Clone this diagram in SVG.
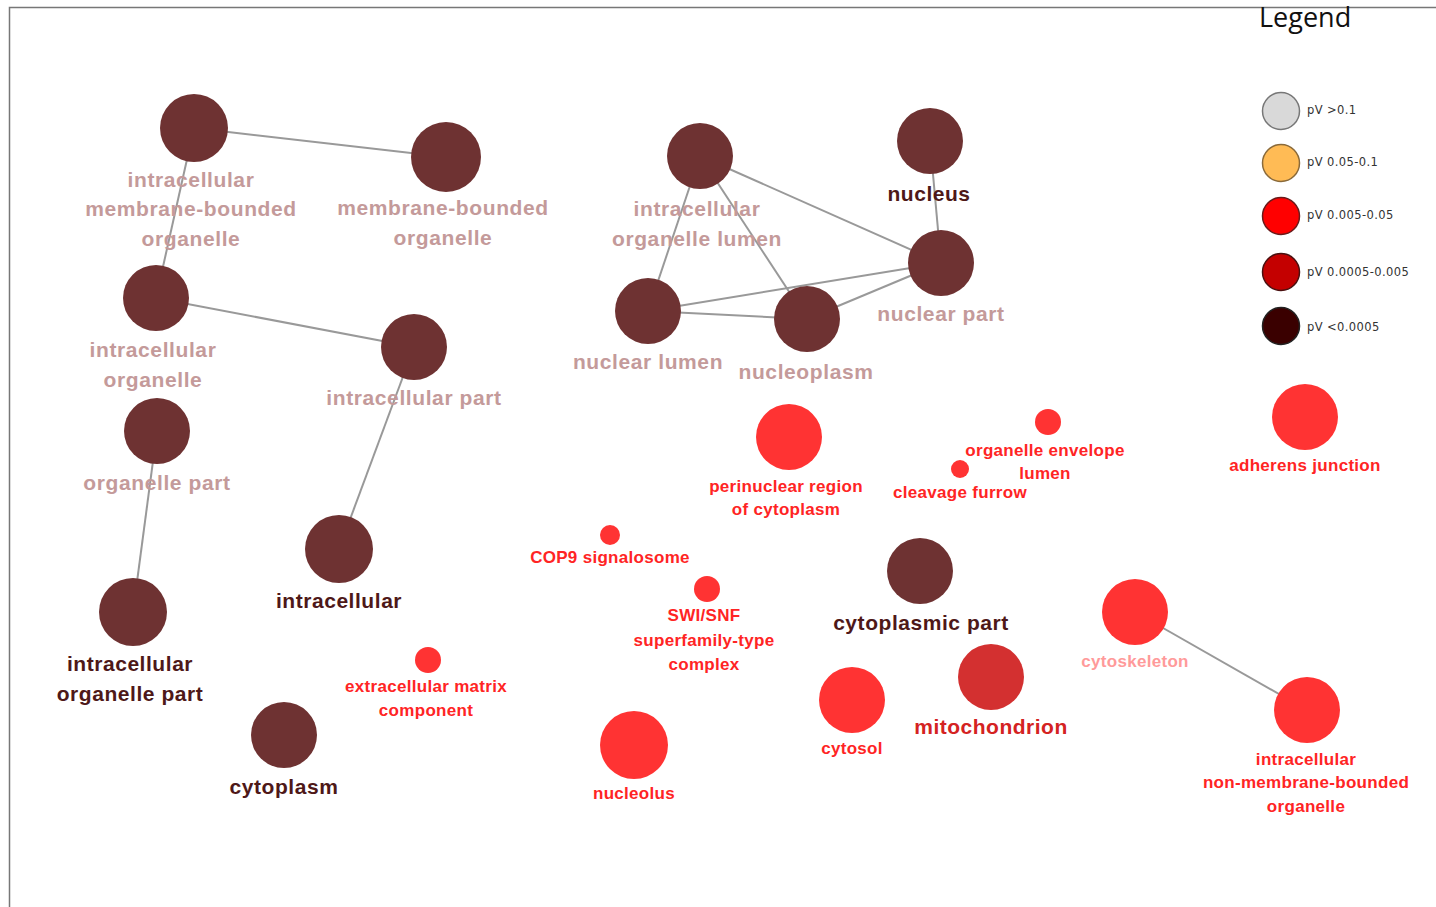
<svg xmlns="http://www.w3.org/2000/svg" width="1436" height="907" viewBox="0 0 1436 907">
  <style>
    .edge { stroke: #999; stroke-width: 2; fill: none; }
    .dk { fill: #6e3232; }
    .rd { fill: #ff3333; }
    .mt { fill: #d33030; }
    text { font-family: "Liberation Sans", Arial, sans-serif; font-weight: bold; text-anchor: middle; }
    .lf { fill: #c49a9a; font-size: 21px; letter-spacing: 0.6px; }
    .ld { fill: #4e1818; font-size: 21px; letter-spacing: 0.55px; }
    .lr { fill: #ff2424; font-size: 17px; letter-spacing: 0.3px; }
    .lm { fill: #d42222; font-size: 21px; letter-spacing: 0.5px; }
    .lp { fill: #ff9a9a; font-size: 17px; letter-spacing: 0.3px; }
    .lg { fill: #333; font-size: 11.5px; font-weight: normal; text-anchor: start; font-family: "DejaVu Sans", sans-serif; letter-spacing: 0.4px; }
  </style>
  <rect width="1436" height="907" fill="#fff"/>
  <!-- frame -->
  <path d="M1436 7.5 H9.5 V907" stroke="#777" stroke-width="1.5" fill="none"/>

  <g id="connectors">
    <line class="edge" x1="194" y1="128" x2="446" y2="157"/>
    <line class="edge" x1="194" y1="128" x2="156" y2="298"/>
    <line class="edge" x1="156" y1="298" x2="414" y2="347"/>
    <line class="edge" x1="414" y1="347" x2="339" y2="549"/>
    <line class="edge" x1="157" y1="431" x2="133" y2="612"/>
    <line class="edge" x1="700" y1="156" x2="941" y2="263"/>
    <line class="edge" x1="700" y1="156" x2="648" y2="311"/>
    <line class="edge" x1="700" y1="156" x2="807" y2="319"/>
    <line class="edge" x1="930" y1="141" x2="941" y2="263"/>
    <line class="edge" x1="648" y1="311" x2="941" y2="263"/>
    <line class="edge" x1="648" y1="311" x2="807" y2="319"/>
    <line class="edge" x1="807" y1="319" x2="941" y2="263"/>
    <line class="edge" x1="1135" y1="612" x2="1307" y2="710"/>
  </g>

  <g id="n-imbo"><circle class="dk" cx="194" cy="128" r="34"/>
    <text class="lf" x="191" y="187">intracellular</text>
    <text class="lf" x="191" y="216">membrane-bounded</text>
    <text class="lf" x="191" y="246">organelle</text></g>
  <g id="n-mbo"><circle class="dk" cx="446" cy="157" r="35"/>
    <text class="lf" x="443" y="215">membrane-bounded</text>
    <text class="lf" x="443" y="245">organelle</text></g>
  <g id="n-io"><circle class="dk" cx="156" cy="298" r="33"/>
    <text class="lf" x="153" y="357">intracellular</text>
    <text class="lf" x="153" y="387">organelle</text></g>
  <g id="n-ip"><circle class="dk" cx="414" cy="347" r="33"/>
    <text class="lf" x="414" y="405">intracellular part</text></g>
  <g id="n-op"><circle class="dk" cx="157" cy="431" r="33"/>
    <text class="lf" x="157" y="490">organelle part</text></g>
  <g id="n-ic"><circle class="dk" cx="339" cy="549" r="34"/>
    <text class="ld" x="339" y="608">intracellular</text></g>
  <g id="n-iop"><circle class="dk" cx="133" cy="612" r="34"/>
    <text class="ld" x="130" y="671">intracellular</text>
    <text class="ld" x="130" y="701">organelle part</text></g>
  <g id="n-cp"><circle class="dk" cx="284" cy="735" r="33"/>
    <text class="ld" x="284" y="794">cytoplasm</text></g>
  <g id="n-iol"><circle class="dk" cx="700" cy="156" r="33"/>
    <text class="lf" x="697" y="216">intracellular</text>
    <text class="lf" x="697" y="246">organelle lumen</text></g>
  <g id="n-nuc"><circle class="dk" cx="930" cy="141" r="33"/>
    <text class="ld" x="929" y="201">nucleus</text></g>
  <g id="n-np"><circle class="dk" cx="941" cy="263" r="33"/>
    <text class="lf" x="941" y="321">nuclear part</text></g>
  <g id="n-nl"><circle class="dk" cx="648" cy="311" r="33"/>
    <text class="lf" x="648" y="369">nuclear lumen</text></g>
  <g id="n-npl"><circle class="dk" cx="807" cy="319" r="33"/>
    <text class="lf" x="806" y="379">nucleoplasm</text></g>
  <g id="n-peri"><circle class="rd" cx="789" cy="437" r="33"/>
    <text class="lr" x="786" y="492">perinuclear region</text>
    <text class="lr" x="786" y="515">of cytoplasm</text></g>
  <g id="n-oel"><circle class="rd" cx="1048" cy="422" r="13"/>
    <text class="lr" x="1045" y="456">organelle envelope</text>
    <text class="lr" x="1045" y="479">lumen</text></g>
  <g id="n-cf"><circle class="rd" cx="960" cy="469" r="9"/>
    <text class="lr" x="960" y="498">cleavage furrow</text></g>
  <g id="n-aj"><circle class="rd" cx="1305" cy="417" r="33"/>
    <text class="lr" x="1305" y="471">adherens junction</text></g>
  <g id="n-cop9"><circle class="rd" cx="610" cy="535" r="10"/>
    <text class="lr" x="610" y="563">COP9 signalosome</text></g>
  <g id="n-swi"><circle class="rd" cx="707" cy="589" r="13"/>
    <text class="lr" x="704" y="621">SWI/SNF</text>
    <text class="lr" x="704" y="646">superfamily-type</text>
    <text class="lr" x="704" y="670">complex</text></g>
  <g id="n-cyp"><circle class="dk" cx="920" cy="571" r="33"/>
    <text class="ld" x="921" y="630">cytoplasmic part</text></g>
  <g id="n-csk"><circle class="rd" cx="1135" cy="612" r="33"/>
    <text class="lp" x="1135" y="667">cytoskeleton</text></g>
  <g id="n-mito"><circle class="mt" cx="991" cy="677" r="33"/>
    <text class="lm" x="991" y="734">mitochondrion</text></g>
  <g id="n-cyt"><circle class="rd" cx="852" cy="700" r="33"/>
    <text class="lr" x="852" y="754">cytosol</text></g>
  <g id="n-ecm"><circle class="rd" cx="428" cy="660" r="13"/>
    <text class="lr" x="426" y="692">extracellular matrix</text>
    <text class="lr" x="426" y="716">component</text></g>
  <g id="n-nclo"><circle class="rd" cx="634" cy="745" r="34"/>
    <text class="lr" x="634" y="799">nucleolus</text></g>
  <g id="n-inmbo"><circle class="rd" cx="1307" cy="710" r="33"/>
    <text class="lr" x="1306" y="765">intracellular</text>
    <text class="lr" x="1306" y="788">non-membrane-bounded</text>
    <text class="lr" x="1306" y="812">organelle</text></g>

  <g id="legend">
    <text x="1259" y="27" style="font-family:'Open Sans','Liberation Sans',sans-serif;font-weight:normal;font-size:27px;text-anchor:start;fill:#111">Legend</text>
    <circle cx="1281" cy="111" r="18.5" fill="#d9d9d9" stroke="#777" stroke-width="1.5"/>
    <text class="lg" x="1307" y="114">pV &gt;0.1</text>
    <circle cx="1281" cy="163" r="18.5" fill="#ffbb55" stroke="#8a6a3a" stroke-width="1.5"/>
    <text class="lg" x="1307" y="166">pV 0.05-0.1</text>
    <circle cx="1281" cy="216" r="18.5" fill="#ff0000" stroke="#6a1a1a" stroke-width="1.5"/>
    <text class="lg" x="1307" y="219">pV 0.005-0.05</text>
    <circle cx="1281" cy="272" r="18.5" fill="#c40000" stroke="#4a1010" stroke-width="1.5"/>
    <text class="lg" x="1307" y="276">pV 0.0005-0.005</text>
    <circle cx="1281" cy="326" r="18.5" fill="#3a0000" stroke="#222" stroke-width="1.5"/>
    <text class="lg" x="1307" y="331">pV &lt;0.0005</text>
  </g>
</svg>
